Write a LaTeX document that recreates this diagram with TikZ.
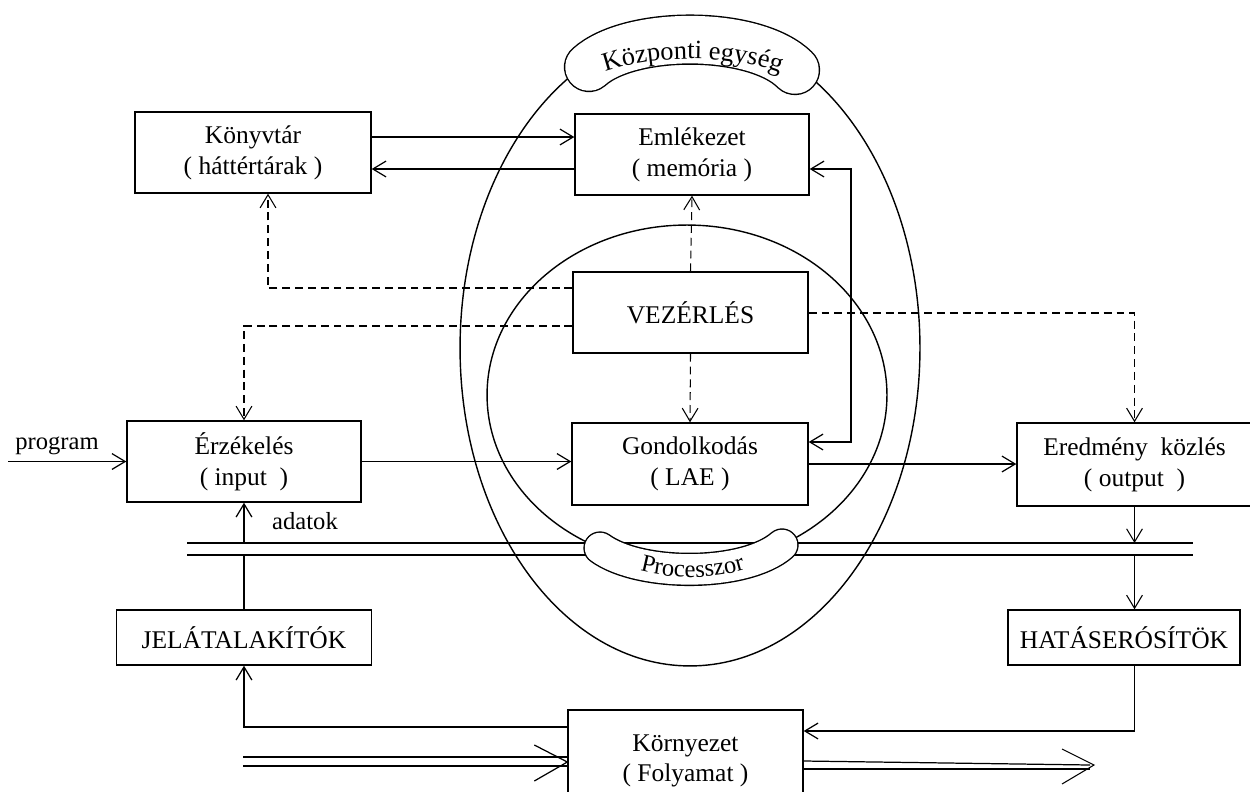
\documentclass[tikz,border=0pt]{standalone}
\usepackage{fontspec}
\setmainfont{Liberation Serif}
\usetikzlibrary{arrows.meta,calc,decorations.text}

\begin{document}
\begin{tikzpicture}[x=0.02cm,y=-0.02cm,
  >={Straight Barb[length=7.5pt,width=9pt]},
  box/.style={draw,line width=0.8pt,fill=white,align=center,inner sep=0pt,
              font=\fontsize{14.5}{17.5}\selectfont},
  conn/.style={line width=0.7pt,->},
  dconn/.style={line width=0.6pt,->,dash pattern=on 4.5pt off 2.8pt},
  ring/.style={line width=0.8pt},
  sausage/.style={line width=0.8pt,double=white,double distance=#1,line cap=round},
  bus/.style={line width=0.7pt},
  lbl/.style={font=\fontsize{14}{16}\selectfont,inner sep=0pt}]
\clip (0,0) rectangle (1250,791);
\fill[white] (0,0) rectangle (1250,791);

% central unit and processor rings
\draw[ring] (690,348) ellipse[x radius=4.6cm,y radius=6.36cm];
\draw[ring] (687,395) ellipse[x radius=4cm,y radius=3.4cm];

% data bus
\coordinate (busTL) at (187,543); \coordinate (busTR) at (1193,543);
\coordinate (busBL) at (187,555); \coordinate (busBR) at (1193,555);
\draw[bus] (busTL) -- (busTR);
\draw[bus] (busBL) -- (busBR);

% label bands
\draw[sausage=0.95cm] (589,67) .. controls (630,30) and (755,30) .. (795,70);
\path[decorate,decoration={text along path,text align=center,
  text={|\fontsize{15}{15}\selectfont|Központi egység}}]
  (585,81) .. controls (635,51) and (750,51) .. (800,83);

\draw[sausage=0.61cm] (600,548) .. controls (640,577) and (745,577) .. (782,545);
\path[decorate,decoration={text along path,text align=center,
  text={|\fontsize{14}{14}\selectfont|Processzor}}]
  (615,560) .. controls (650,583) and (735,583) .. (770,558);

% function blocks
\node[box,minimum width=4.72cm,minimum height=1.62cm] (kony) at (253,152.5) {Könyvtár\\( háttértárak )};
\node[box,minimum width=4.68cm,minimum height=1.62cm] (eml) at (692,154.5) {Emlékezet\\( memória )};
\node[box,minimum width=4.70cm,minimum height=1.62cm] (vez) at (690.5,312.5) {VEZÉRLÉS};
\node[box,minimum width=4.72cm,minimum height=1.64cm] (gond) at (690,464) {Gondolkodás\\( LAE )};
\node[box,minimum width=4.68cm,minimum height=1.62cm] (erz) at (244,461.5) {Érzékelés\\( input~ )};
\node[box,minimum width=4.70cm,minimum height=1.66cm] (ered) at (1134.5,464.5) {Eredmény~ közlés\\( output~ )};
\node[box,minimum width=5.10cm,minimum height=1.10cm] (jel) at (244,637.5) {JELÁTALAKÍTÓK};
\node[box,minimum width=4.64cm,minimum height=1.10cm] (hat) at (1124,637.5) {HATÁSERÓSÍTÖK};
\node[box,minimum width=4.70cm,minimum height=2.04cm] (kor) at (685.5,761) {Környezet\\( Folyamat )};

% library <-> memory
\draw[conn] (kony.east |- 0,137) -- (eml.west |- 0,137);
\draw[conn] (eml.west |- 0,169) -- (kony.east |- 0,169);
% memory <-> thinking
\draw[line width=0.7pt,<->] (gond.east |- 0,442) -| (851,169) -- (eml.east |- 0,169);

% control lines
\draw[dconn] (vez.north) -- (eml.south);
\draw[dconn] (vez.west |- 0,288) -| (268,0 |- kony.south);
\draw[dconn] (vez.west |- 0,326) -| (erz.north);
\draw[dconn] (vez.south) -- (gond.north);
\draw[dconn] (vez.east |- 0,313) -| (ered.north);

% main data flow
\coordinate (progStart) at (8,461.5);
\draw[conn] (progStart) -- (erz.west);
\node[lbl] (prog) at (57,446) {program};
\draw[conn] (erz.east) -- (erz.east -| gond.west);
\draw[conn] (gond.east) -- (gond.east -| ered.west);

% bus connections
\draw[conn] (erz.south |- busTL) -- (erz.south);
\node[lbl] (adat) at (305,521) {adatok};
\draw[line width=0.7pt] (jel.north) -- (jel.north |- busBL);
\draw[line width=0.6pt,->] (ered.south) -- (ered.south |- busTR);
\draw[line width=0.6pt,->] (ered.south |- busBR) -- (ered.south |- hat.north);

% environment loop
\draw[conn] (kor.west |- 0,727) -| (jel.south);
\draw[conn] (ered.south |- hat.south) |- (kor.east |- 0,731);

% process flow through the environment
\draw[bus] (243,757) -- (kor.west |- 0,757);
\draw[bus] (243,766) -- (kor.west |- 0,766);
\draw[line width=0.7pt] ($(kor.west |- 0,762)+(-33,-17)$) -- (kor.west |- 0,762) -- ++(-33,19);
\coordinate (outEnd) at (1094,765);
\draw[bus] (kor.east |- 0,761) -- (outEnd -| 1090,0);
\draw[bus] (kor.east |- 0,769) -- (1090,769);
\draw[line width=0.6pt] ($(outEnd)+(-32,-16)$) -- (outEnd) -- ++(-32,19);
\end{tikzpicture}
\end{document}
